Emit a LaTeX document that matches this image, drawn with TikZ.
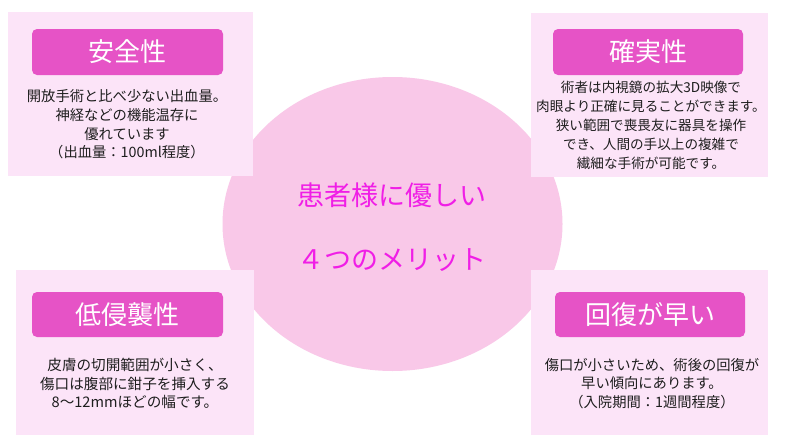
\documentclass[tikz,border=0pt]{standalone}
\usepackage{fontspec}
\setmainfont{Noto Sans CJK JP}
\usetikzlibrary{shapes.geometric}
\definecolor{boxbg}{RGB}{252,228,248}
\definecolor{ellbg}{RGB}{249,200,232}
\definecolor{pillbg}{RGB}{230,83,198}
\definecolor{maintxt}{RGB}{240,30,230}
\definecolor{bodytxt}{RGB}{30,30,30}
\tikzset{
  panel/.style={fill=boxbg, draw=none},
  pill/.style={fill=pillbg, draw=none, rounded corners=5pt},
  pilltext/.style={text=white, font=\fontsize{26}{30}\selectfont, inner sep=0pt},
  bodytext/.style={text=bodytxt, align=center, inner sep=0pt, font=\fontsize{14.3}{18.7}\selectfont},
  centertext/.style={text=maintxt, inner sep=0pt, font=\fontsize{27}{32}\selectfont}
}
\begin{document}
\begin{tikzpicture}[x=1pt,y=-1pt]
\useasboundingbox (0,0) rectangle (800,447);
\fill[white] (0,0) rectangle (800,447);
% central ellipse
\node[ellipse, fill=ellbg, draw=none, minimum width=340pt, minimum height=294pt, inner sep=0pt] (hub) at (392.5,224) {};
% panels
\fill[panel] (8,12) rectangle (253,176);
\fill[panel] (531,13) rectangle (768,177);
\fill[panel] (16,270) rectangle (254,435);
\fill[panel] (531,270) rectangle (768,435);
% pills
\fill[pill] (32,29) rectangle (223,75);
\fill[pill] (553,29) rectangle (743,75);
\fill[pill] (32,292) rectangle (223,337);
\fill[pill] (555,292) rectangle (745,337);
% titles
\node[pilltext] (t1) at (127.5,52) {安全性};
\node[pilltext] (t2) at (648,52) {確実性};
\node[pilltext] (t3) at (127.5,314.5) {低侵襲性};
\node[pilltext] (t4) at (650,314.5) {回復が早い};
% bodies
\node[bodytext] (b1) at (127,124.5) {開放手術と比べ少ない出血量。\\神経などの機能温存に\\優れています\\（出血量：100ml程度）};
\node[bodytext, font=\fontsize{13.6}{19}\selectfont] (b2) at (651,125.5) {術者は内視鏡の拡大3D映像で\\肉眼より正確に見ることができます。\\狭い範囲で喪畏友に器具を操作\\でき、人間の手以上の複雑で\\繊細な手術が可能です。};
\node[bodytext, font=\fontsize{14.6}{18.7}\selectfont] (b3) at (135,383.5) {皮膚の切開範囲が小さく、\\傷口は腹部に鉗子を挿入する\\8～12mmほどの幅です。};
\node[bodytext] (b4) at (652,383.5) {傷口が小さいため、術後の回復が\\早い傾向にあります。\\（入院期間：1週間程度）};
% center texts
\node[centertext] (c1) at (392,195) {患者様に優しい};
\node[centertext] (c2) at (392,260) {４つのメリット};
\end{tikzpicture}
\end{document}
